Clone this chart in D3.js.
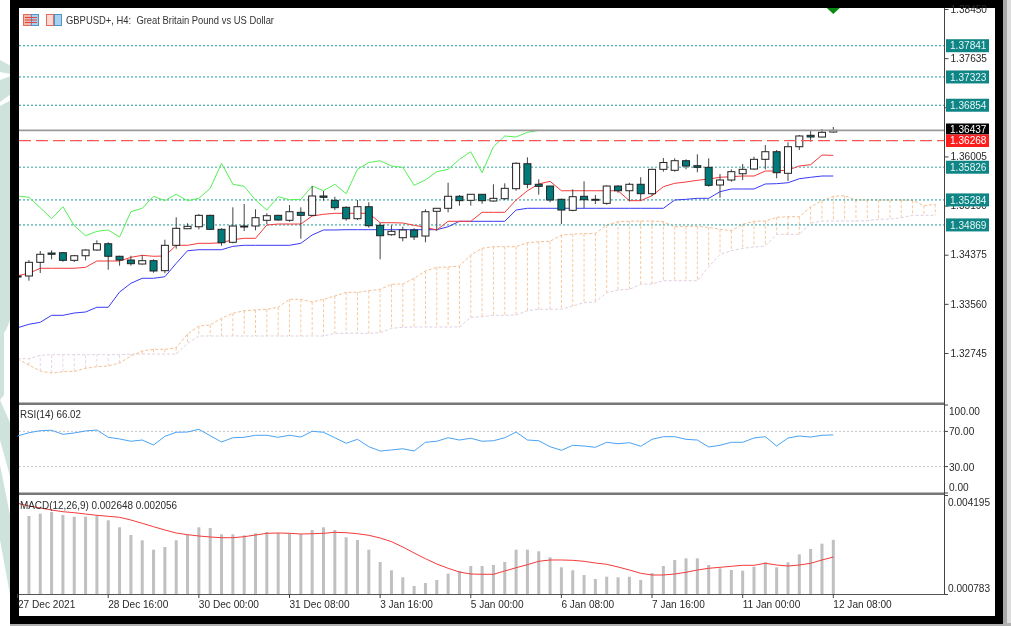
<!DOCTYPE html>
<html><head><meta charset="utf-8">
<script src="https://cdn.jsdelivr.net/npm/d3@7"></script>
<style>
html,body{margin:0;padding:0;background:#fff;overflow:hidden}
svg{display:block}
text{font-family:"Liberation Sans",Arial,sans-serif;font-size:10.1px}
</style></head><body><div id="c"></div>
<script>
const opens=[1.34017,1.34022,1.34249,1.34403,1.34408,1.34282,1.34358,1.34453,1.34557,1.34349,1.34287,1.34221,1.34276,1.34110,1.34531,1.34806,1.34839,1.35028,1.34796,1.34581,1.34839,1.34851,1.34946,1.35028,1.34946,1.35078,1.35028,1.35349,1.35277,1.35161,1.34972,1.35171,1.34863,1.34707,1.34657,1.34785,1.34685,1.35095,1.35145,1.35344,1.35277,1.35377,1.35266,1.35304,1.35470,1.35884,1.35543,1.35514,1.35294,1.35111,1.35344,1.35282,1.35227,1.35514,1.35436,1.35543,1.35387,1.35791,1.35775,1.35934,1.35851,1.35824,1.35531,1.35614,1.35718,1.35796,1.35957,1.36083,1.35725,1.36166,1.36355,1.36327,1.36410];
const highs=[1.34038,1.34287,1.34436,1.34448,1.34420,1.34370,1.34465,1.34614,1.34581,1.34358,1.34358,1.34370,1.34299,1.34624,1.34995,1.34896,1.35050,1.35038,1.34813,1.35161,1.35216,1.35128,1.35062,1.35038,1.35199,1.35161,1.35514,1.35431,1.35337,1.35178,1.35282,1.35244,1.34906,1.34863,1.34839,1.34813,1.35128,1.35150,1.35569,1.35365,1.35382,1.35382,1.35543,1.35559,1.35907,1.35990,1.35626,1.35519,1.35305,1.35460,1.35592,1.35365,1.35526,1.35526,1.35569,1.35659,1.35801,1.35979,1.35974,1.35957,1.36040,1.35974,1.35713,1.35791,1.35879,1.36000,1.36194,1.36111,1.36239,1.36360,1.36427,1.36460,1.36493];
const lows=[1.34005,1.33944,1.34072,1.34299,1.34259,1.34254,1.34282,1.34441,1.34126,1.34193,1.34193,1.34209,1.34076,1.34067,1.34475,1.34801,1.34796,1.34785,1.34524,1.34564,1.34768,1.34780,1.34879,1.34939,1.34922,1.34640,1.35017,1.35271,1.35116,1.34939,1.34951,1.34823,1.34299,1.34690,1.34597,1.34619,1.34581,1.34773,1.35078,1.35188,1.35188,1.35221,1.35254,1.35282,1.35436,1.35476,1.35370,1.35244,1.34884,1.35095,1.35145,1.35216,1.35204,1.35403,1.35261,1.35271,1.35349,1.35752,1.35752,1.35791,1.35742,1.35503,1.35320,1.35586,1.35614,1.35780,1.35791,1.35642,1.35597,1.36111,1.36249,1.36322,1.36398];
const closes=[1.34022,1.34249,1.34382,1.34382,1.34282,1.34358,1.34453,1.34557,1.34349,1.34287,1.34226,1.34276,1.34105,1.34531,1.34813,1.34846,1.35028,1.34796,1.34574,1.34851,1.34851,1.34989,1.35022,1.34951,1.35088,1.35028,1.35349,1.35327,1.35155,1.34972,1.35171,1.34856,1.34690,1.34763,1.34785,1.34669,1.35088,1.35145,1.35344,1.35271,1.35377,1.35271,1.35310,1.35476,1.35891,1.35543,1.35509,1.35282,1.35116,1.35337,1.35287,1.35294,1.35514,1.35436,1.35543,1.35387,1.35791,1.35904,1.35934,1.35846,1.35824,1.35526,1.35614,1.35752,1.35791,1.35957,1.36083,1.35735,1.36166,1.36344,1.36327,1.36405,1.36437];
const tenkan=[1.34027,1.34067,1.34150,1.34150,1.34150,1.34150,1.34166,1.34271,1.34271,1.34271,1.34332,1.34365,1.34349,1.34354,1.34531,1.34531,1.34564,1.34564,1.34574,1.34624,1.34647,1.34647,1.34868,1.34884,1.34884,1.34884,1.35017,1.35045,1.35062,1.35062,1.35062,1.35062,1.34906,1.34906,1.34901,1.34863,1.34829,1.34785,1.34929,1.34929,1.34929,1.35078,1.35078,1.35078,1.35282,1.35436,1.35548,1.35592,1.35436,1.35436,1.35436,1.35436,1.35436,1.35436,1.35271,1.35271,1.35354,1.35503,1.35559,1.35581,1.35609,1.35630,1.35659,1.35669,1.35680,1.35680,1.35763,1.35763,1.35780,1.35846,1.35868,1.36028,1.36023];
const kijun=[1.33164,1.33221,1.33254,1.33370,1.33370,1.33408,1.33425,1.33503,1.33503,1.33756,1.33901,1.33984,1.33984,1.34010,1.34232,1.34441,1.34458,1.34458,1.34458,1.34514,1.34531,1.34531,1.34531,1.34531,1.34531,1.34564,1.34702,1.34785,1.34785,1.34790,1.34790,1.34790,1.34790,1.34790,1.34790,1.34790,1.34790,1.34790,1.34839,1.34929,1.34929,1.34929,1.34929,1.34929,1.35116,1.35145,1.35145,1.35145,1.35145,1.35145,1.35145,1.35145,1.35145,1.35145,1.35145,1.35145,1.35145,1.35145,1.35282,1.35294,1.35310,1.35310,1.35420,1.35465,1.35465,1.35465,1.35548,1.35553,1.35569,1.35635,1.35659,1.35680,1.35680];
const chikou=[1.35349,1.35327,1.35155,1.34972,1.35171,1.34856,1.34690,1.34763,1.34785,1.34669,1.35088,1.35145,1.35344,1.35271,1.35377,1.35271,1.35310,1.35476,1.35891,1.35543,1.35509,1.35282,1.35116,1.35337,1.35287,1.35294,1.35514,1.35436,1.35543,1.35387,1.35791,1.35904,1.35934,1.35846,1.35824,1.35526,1.35614,1.35752,1.35791,1.35957,1.36083,1.35735,1.36166,1.36344,1.36327,1.36405,1.36437];
const senkouA=[1.32645,1.32546,1.32446,1.32413,1.32435,1.32441,1.32491,1.32518,1.32529,1.32579,1.32695,1.32778,1.32806,1.32806,1.32833,1.33060,1.33193,1.33209,1.33320,1.33403,1.33446,1.33458,1.33470,1.33503,1.33635,1.33635,1.33591,1.33635,1.33690,1.33751,1.33751,1.33778,1.33801,1.33884,1.33890,1.33984,1.34105,1.34166,1.34171,1.34188,1.34370,1.34481,1.34508,1.34508,1.34508,1.34574,1.34591,1.34597,1.34702,1.34718,1.34723,1.34730,1.34868,1.34922,1.34929,1.34934,1.34934,1.34922,1.34839,1.34846,1.34846,1.34829,1.34796,1.34773,1.34879,1.34929,1.34934,1.34995,1.35005,1.35005,1.35171,1.35271,1.35344,1.35354,1.35282,1.35282,1.35282,1.35282,1.35282,1.35277,1.35188,1.35211];
const senkouB=[1.32650,1.32650,1.32707,1.32717,1.32717,1.32717,1.32717,1.32717,1.32717,1.32717,1.32728,1.32728,1.32728,1.32728,1.32728,1.32906,1.33027,1.33027,1.33027,1.33027,1.33027,1.33027,1.33027,1.33027,1.33027,1.33027,1.33027,1.33027,1.33072,1.33072,1.33072,1.33072,1.33082,1.33154,1.33171,1.33176,1.33176,1.33176,1.33176,1.33176,1.33337,1.33347,1.33370,1.33370,1.33375,1.33446,1.33470,1.33470,1.33470,1.33524,1.33579,1.33591,1.33745,1.33790,1.33801,1.33884,1.33890,1.33944,1.33944,1.33944,1.33944,1.34176,1.34382,1.34441,1.34481,1.34503,1.34519,1.34713,1.34713,1.34713,1.34896,1.34934,1.34934,1.34934,1.34934,1.34939,1.34962,1.34967,1.34989,1.35028,1.35028,1.35028];
const rsi=[64.8,68.5,70.8,71.3,66.7,68.2,70.5,71.6,63.3,61.4,58.8,60.2,54.5,64.4,69,69.3,72.4,65.1,58,62.8,63.3,65.6,65.6,63.3,65.6,63.6,70.1,69,62.8,56.5,61,52.6,47.7,48.9,50.3,47.7,57.6,58.8,62.8,60.2,62.2,58.8,59.4,62.8,69.3,60.2,59.4,52.6,48.5,54.2,53.4,51.9,57.6,56,57.2,53.1,61,64,64,61,60.2,52.3,54.2,57.6,57.6,62.5,64,53.4,62.5,64.8,63.6,65.6,66.02];
const macd=[0.003506,0.003471,0.003551,0.003609,0.003506,0.003447,0.003447,0.003482,0.003323,0.003082,0.002816,0.002634,0.002310,0.002403,0.002634,0.002827,0.003082,0.003058,0.002841,0.002841,0.002806,0.002875,0.002920,0.002885,0.002875,0.002851,0.002989,0.003082,0.002989,0.002737,0.002644,0.002310,0.001886,0.001600,0.001359,0.001059,0.001162,0.001266,0.001483,0.001576,0.001748,0.001748,0.001782,0.001886,0.002310,0.002310,0.002255,0.002048,0.001703,0.001600,0.001438,0.001300,0.001379,0.001359,0.001379,0.001266,0.001507,0.001748,0.001955,0.002013,0.002013,0.001782,0.001669,0.001610,0.001586,0.001724,0.001876,0.001703,0.001876,0.002151,0.002334,0.002517,0.002648];
const signal=[0.003909,0.003816,0.003747,0.003678,0.003619,0.003585,0.003540,0.003495,0.003461,0.003426,0.003333,0.003220,0.003102,0.002989,0.002885,0.002827,0.002782,0.002748,0.002723,0.002723,0.002758,0.002816,0.002875,0.002885,0.002875,0.002851,0.002861,0.002875,0.002909,0.002896,0.002861,0.002806,0.002713,0.002586,0.002403,0.002196,0.002000,0.001817,0.001669,0.001541,0.001472,0.001462,0.001462,0.001576,0.001689,0.001793,0.001910,0.001955,0.001955,0.001944,0.001910,0.001851,0.001807,0.001714,0.001610,0.001496,0.001438,0.001438,0.001472,0.001531,0.001610,0.001669,0.001703,0.001738,0.001772,0.001772,0.001841,0.001782,0.001748,0.001782,0.001841,0.001955,0.002056];
const timeLabels=["27 Dec 2021","28 Dec 16:00","30 Dec 00:00","31 Dec 08:00","3 Jan 16:00","5 Jan 00:00","6 Jan 08:00","7 Jan 16:00","11 Jan 00:00","12 Jan 08:00"];
const priceTicks=[1.38450,1.37635,1.36820,1.36005,1.35190,1.34375,1.33560,1.32745];
const hiddenPriceLabels=[1.36820];
const levels=[1.37841,1.37323,1.36854,1.35826,1.35284,1.34869];
const bid=1.36437, ask=1.36268;
const rsiTicks=[100,70,30,0];
const rsiLevels=[70,30];
const macdTicks=["0.004195","0.000783"];
const title="GBPUSD+, H4:  Great Britain Pound vs US Dollar";
</script>
<script>
const W=1011,H=626;
const svg=d3.select("#c").append("svg").attr("width",W).attr("height",H).attr("fill","#2a2a2a").style("filter","blur(0.35px)");
const x=d3.scaleLinear().domain([0,72]).range([17.6,833.3]);
const y=d3.scaleLinear().domain([1.38450,1.32745]).range([9,353]);
const yR=d3.scaleLinear().domain([100,0]).range([405,493]);
const yM=d3.scaleLinear().domain([0.004195,0.000783]).range([495,594]);
const L=19,R=944,T=8;

// outer backdrop
svg.append("rect").attr("width",W).attr("height",H).attr("fill","#fff");
const mint="#cde3dc";
[[[0,60],[11,66],[11,74],[0,72]],[[0,80],[11,76],[11,94],[0,102]],[[0,106],[11,100],[11,318],[6,330],[0,338]],[[0,338],[4,332],[4,395],[0,400]],[[0,400],[11,425],[11,480],[0,440]],[[0,465],[11,520],[11,600],[0,540]]]
 .forEach(p=>svg.append("polygon").attr("points",p.join(" ")).attr("fill",mint));
svg.append("rect").attr("x",1003).attr("width",8).attr("height",H).attr("fill","#dcdcdc");
svg.append("rect").attr("x",1003).attr("width",4).attr("height",H).attr("fill","#a8a8a8");
svg.append("rect").attr("y",623).attr("x",10).attr("width",W).attr("height",3).attr("fill","#b0b0b0");
svg.append("rect").attr("x",10).attr("y",0).attr("width",993).attr("height",624).attr("fill","#000");
svg.append("rect").attr("x",L).attr("y",T).attr("width",995-L).attr("height",616-T).attr("fill","#fff");

const main=svg.append("g");
const defs=svg.append("defs");
defs.append("clipPath").attr("id","pc").append("rect").attr("x",L).attr("y",T).attr("width",R-L).attr("height",395);
const plot=main.append("g").attr("clip-path","url(#pc)");

// ichimoku cloud
const cloud=plot.append("g").attr("fill","none");
const dash="3,2";
senkouA.forEach((a,i)=>{
  cloud.append("line").attr("x1",x(i)).attr("x2",x(i)).attr("y1",y(a)).attr("y2",y(senkouB[i]))
   .attr("stroke",a>=senkouB[i]?"#f7c9a0":"#e6d6e6").attr("stroke-dasharray",dash);
});
const ln=arr=>d3.line().x((d,i)=>x(i)).y(d=>y(d))(arr);
cloud.append("path").attr("d",ln(senkouA)).attr("stroke","#f6bf92").attr("stroke-dasharray",dash);
cloud.append("path").attr("d",ln(senkouB)).attr("stroke","#e2cfe2").attr("stroke-dasharray",dash);

// levels
levels.forEach((v,k)=>plot.append("line").attr("x1",L).attr("x2",R).attr("y1",y(v)).attr("y2",y(v))
  .attr("stroke","#1f9a98").attr("stroke-dasharray","2,2").attr("opacity",k===3||k===4?0.6:1).attr("stroke-width",k===3||k===4?1.6:1));

// lines
plot.append("path").attr("d",ln(chikou)).attr("fill","none").attr("stroke","#55f055");
plot.append("path").attr("d",ln(kijun)).attr("fill","none").attr("stroke","#3a3af5");
plot.append("path").attr("d",ln(tenkan)).attr("fill","none").attr("stroke","#f53a3a");

// candles
const cg=plot.append("g");
closes.forEach((c,i)=>{
  const o=opens[i],px=x(i),top=y(Math.max(o,c)),bot=y(Math.min(o,c));
  cg.append("line").attr("x1",px).attr("x2",px).attr("y1",y(highs[i])).attr("y2",y(lows[i])).attr("stroke","#444");
  cg.append("rect").attr("x",px-3.5).attr("width",7).attr("y",top).attr("height",Math.max(bot-top,1))
    .attr("fill",c>=o?"#fff":"#007b7b").attr("stroke","#222");
});

// bid / ask
plot.append("line").attr("x1",L).attr("x2",R).attr("y1",y(bid)).attr("y2",y(bid)).attr("stroke","#999").attr("stroke-width",1.6);
plot.append("line").attr("x1",L).attr("x2",R).attr("y1",y(ask)).attr("y2",y(ask)).attr("stroke","#ff5555").attr("stroke-width",1.2).attr("stroke-dasharray","12,5");
// signal arrow
plot.append("path").attr("d",`M${x(72)-6.5},${T} h13 l-6.5,6 z`).attr("fill","#0a8a12");

// title + icons
const ic=svg.append("g");
ic.append("rect").attr("x",23.5).attr("y",14.5).attr("width",15).attr("height",11).attr("fill","#f3b6ae").attr("stroke","#e06a5c");
ic.append("rect").attr("x",31.5).attr("y",14.5).attr("width",7).attr("height",11).attr("fill","#a9d0ee").attr("stroke","#4d94cc");
[17.5,20,22.5].forEach(v=>ic.append("line").attr("x1",25).attr("x2",37).attr("y1",v).attr("y2",v).attr("stroke","#d9483a"));
ic.append("rect").attr("x",46.5).attr("y",14.5).attr("width",7).attr("height",11).attr("fill","#fbd9d3").attr("stroke","#e06a5c");
ic.append("rect").attr("x",54.5).attr("y",14.5).attr("width",7).attr("height",11).attr("fill","#a9d0ee").attr("stroke","#4d94cc");
svg.append("text").attr("x",66).attr("y",24).attr("xml:space","preserve").attr("textLength",208).attr("lengthAdjust","spacingAndGlyphs").style("font-size","11.4px").attr("fill","#333").text(title);

// RSI pane
rsiLevels.forEach(v=>svg.append("line").attr("x1",L).attr("x2",R).attr("y1",yR(v)).attr("y2",yR(v)).attr("stroke","#c8c8c8").attr("stroke-dasharray","2,2"));
svg.append("path").attr("d",d3.line().x((d,i)=>x(i)).y(d=>yR(d))(rsi)).attr("fill","none").attr("stroke","#4aa3f5");
svg.append("text").attr("x",20).attr("y",418).attr("textLength",61).attr("lengthAdjust","spacingAndGlyphs").style("font-size","10.8px").text("RSI(14) 66.02");

// MACD pane
defs.append("clipPath").attr("id","mc").append("rect").attr("x",L).attr("y",495).attr("width",R-L).attr("height",100);
macd.forEach((v,i)=>{ if(x(i)>L) svg.append("rect").attr("x",x(i)-1.5).attr("width",3).attr("y",yM(v)).attr("height",594-yM(v)).attr("fill","#c0c0c0");});
svg.append("path").attr("clip-path","url(#mc)").attr("d",d3.line().x((d,i)=>x(i)).y(d=>yM(d))(signal)).attr("fill","none").attr("stroke","#f53a3a");
svg.append("text").attr("x",20).attr("y",509).attr("textLength",157).attr("lengthAdjust","spacingAndGlyphs").style("font-size","10.8px").text("MACD(12,26,9) 0.002648 0.002056");

// separators
[404,494].forEach(v=>svg.append("rect").attr("x",L).attr("width",R-L).attr("y",v-1.5).attr("height",2.5).attr("fill","#777"));
svg.append("line").attr("x1",L).attr("x2",R).attr("y1",594.5).attr("y2",594.5).attr("stroke","#555");
svg.append("line").attr("x1",R+.5).attr("x2",R+.5).attr("y1",T).attr("y2",595).attr("stroke","#444");

// price axis
const ax=svg.append("g").attr("transform",`translate(${R+.5},0)`);
ax.call(d3.axisRight(y).tickValues(priceTicks).tickFormat(v=>hiddenPriceLabels.includes(v)?"":d3.format(".5f")(v)).tickSize(4).tickPadding(2));
ax.select(".domain").remove();
ax.selectAll(".tick line").attr("stroke","#444");
ax.selectAll("text").style("font-family",'"Liberation Sans",Arial,sans-serif').style("font-size","10.1px").attr("fill","#2a2a2a");

const tag=(v,fill,yy,h,tc)=>{
  svg.append("rect").attr("x",946).attr("width",43).attr("y",yy).attr("height",h).attr("fill",fill);
  svg.append("text").attr("x",950).attr("y",yy+h/2+3.7).attr("fill",tc).text(d3.format(".5f")(v));
};
levels.forEach(v=>tag(v,"#0f8585",y(v)-6.5,13,"#e8f6f6"));
tag(bid,"#000",123.5,11,"#fff");
tag(ask,"#ff1c1c",134.5,12.5,"#fff");

// RSI axis labels (pulled inside at the pane edges as the terminal does)
const rsiLabelY={100:411,70:431.5,30:467,0:487};
rsiTicks.forEach(v=>{
  svg.append("line").attr("x1",R).attr("x2",R+4).attr("y1",yR(v)).attr("y2",yR(v)).attr("stroke","#444");
  svg.append("text").attr("x",949).attr("y",rsiLabelY[v]+3.7).text(d3.format(".2f")(v));
});
svg.append("text").attr("x",948).attr("y",505.5).text(macdTicks[0]);
svg.append("text").attr("x",948).attr("y",592).text(macdTicks[1]);
[495,594].forEach(v=>svg.append("line").attr("x1",R).attr("x2",R+4).attr("y1",v+.5).attr("y2",v+.5).attr("stroke","#444"));

// time axis
timeLabels.forEach((t,k)=>{
  const px=x(k*8);
  svg.append("line").attr("x1",px).attr("x2",px).attr("y1",594).attr("y2",598).attr("stroke","#444");
  svg.append("text").attr("x",k===0?18:px).attr("y",608).text(t);
});
</script></body></html>
